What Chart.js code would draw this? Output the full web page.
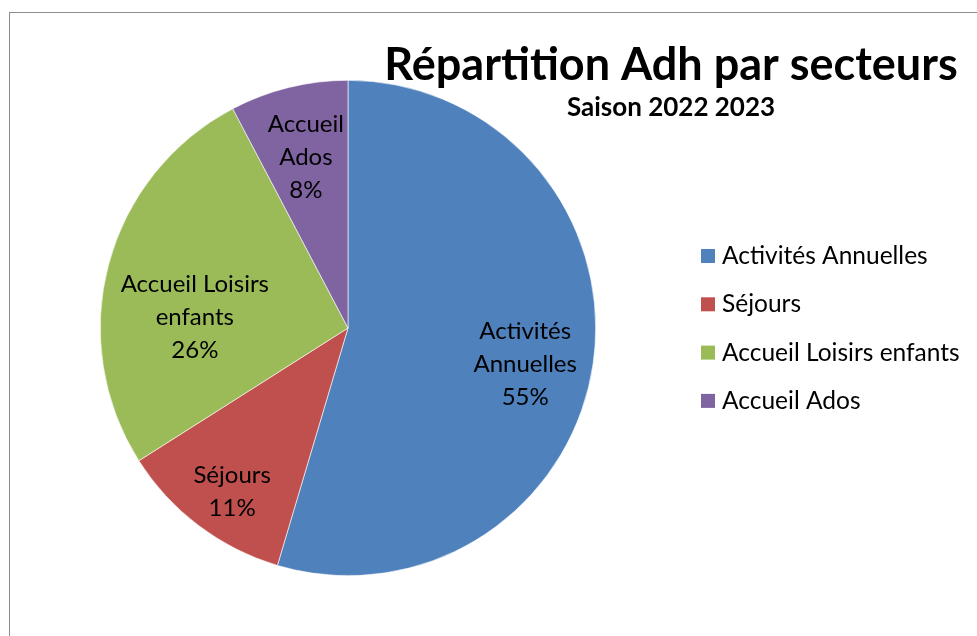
<!DOCTYPE html>
<html>
<head>
<meta charset="utf-8">
<script src="https://cdn.jsdelivr.net/npm/chart.js@4/dist/chart.umd.min.js"></script>
<style>
    html, body { margin: 0; padding: 0; background: #fff; overflow: hidden; }
    #wrap { position: relative; width: 977px; height: 636px; }
    #frame { position: absolute; left: 9px; top: 12px; width: 1100px; height: 800px; border: 1px solid #8c8c8c; }
    #chart { position: absolute; left: 0; top: 0; }
</style>
</head>
<body>
<div id="wrap">
    <div id="frame"></div>
    <canvas id="chart" width="977" height="636"></canvas>
</div>
<script>
const categories = ['Activités Annuelles', 'Séjours', 'Accueil Loisirs enfants', 'Accueil Ados'];
const shares = [54.6, 11.4, 26.3, 7.7];
const colors = ['#4F81BD', '#C0504D', '#9BBB59', '#8064A2'];
// how Excel wrapped the data labels
const labelLines = [['Activités', 'Annuelles'], ['Séjours'], ['Accueil Loisirs', 'enfants'], ['Accueil', 'Ados']];
const title = 'Répartition Adh par secteurs';
const subtitle = 'Saison 2022 2023';

const FONT = 'Lato, Carlito, Calibri, sans-serif';

// data labels inside the slices (Excel "best fit" nudges some of them)
const sliceLabels = {
    id: 'sliceLabels',
    afterDatasetsDraw(chart, args, opts) {
        const ctx = chart.ctx;
        const meta = chart.getDatasetMeta(0);
        const total = shares.reduce((a, b) => a + b, 0);
        ctx.save();
        ctx.fillStyle = '#000';
        ctx.font = opts.size + 'px ' + FONT;
        ctx.textAlign = 'center';
        ctx.textBaseline = 'middle';
        meta.data.forEach((arc, i) => {
            const p = arc.getProps(['x', 'y', 'startAngle', 'endAngle', 'outerRadius'], true);
            const mid = (p.startAngle + p.endAngle) / 2 + opts.turn[i] * Math.PI / 180;
            const r = p.outerRadius * opts.radius[i];
            const cx = p.x + Math.cos(mid) * r;
            const cy = p.y + Math.sin(mid) * r;
            const lines = labelLines[i].concat([Math.round(shares[i] / total * 100) + '%']);
            const top = cy - (lines.length - 1) * opts.lineHeight / 2;
            lines.forEach((txt, j) => ctx.fillText(txt, cx, top + j * opts.lineHeight));
        });
        ctx.restore();
    }
};

// title block and legend, placed like the Excel chart
const excelDecor = {
    id: 'excelDecor',
    afterDraw(chart, args, opts) {
        const ctx = chart.ctx;
        ctx.save();
        ctx.fillStyle = '#000';
        ctx.textAlign = 'center';
        ctx.textBaseline = 'alphabetic';
        ctx.font = 'bold 45px ' + FONT;
        ctx.fillText(title, opts.titleX, 80);
        ctx.font = 'bold 26px ' + FONT;
        ctx.fillText(subtitle, opts.titleX, 116);

        ctx.textAlign = 'left';
        ctx.textBaseline = 'middle';
        ctx.font = '24.5px ' + FONT;
        categories.forEach((c, i) => {
            const y = opts.legendY + i * opts.legendGap;
            ctx.fillStyle = colors[i];
            ctx.fillRect(opts.legendX, y - 7, 14, 14);
            ctx.fillStyle = '#000';
            ctx.fillText(c, opts.legendX + 21, y);
        });
        ctx.restore();
    }
};

new Chart(document.getElementById('chart'), {
    type: 'pie',
    data: {
        labels: categories,
        datasets: [{
            data: shares,
            backgroundColor: colors,
            borderColor: '#ffffff',
            borderWidth: 0.6
        }]
    },
    options: {
        responsive: false,
        animation: false,
        layout: { padding: { left: 100, top: 80, right: 381, bottom: 60 } },
        plugins: {
            legend: { display: false },
            tooltip: { enabled: false },
            sliceLabels: {
                size: 24,
                lineHeight: 33,
                radius: [0.73, 0.81, 0.62, 0.71],
                turn: [3.2, -1.8, -10.8, 0]
            },
            excelDecor: { titleX: 671, legendX: 701, legendY: 256, legendGap: 48.3 }
        }
    },
    plugins: [sliceLabels, excelDecor]
});
</script>
</body>
</html>
